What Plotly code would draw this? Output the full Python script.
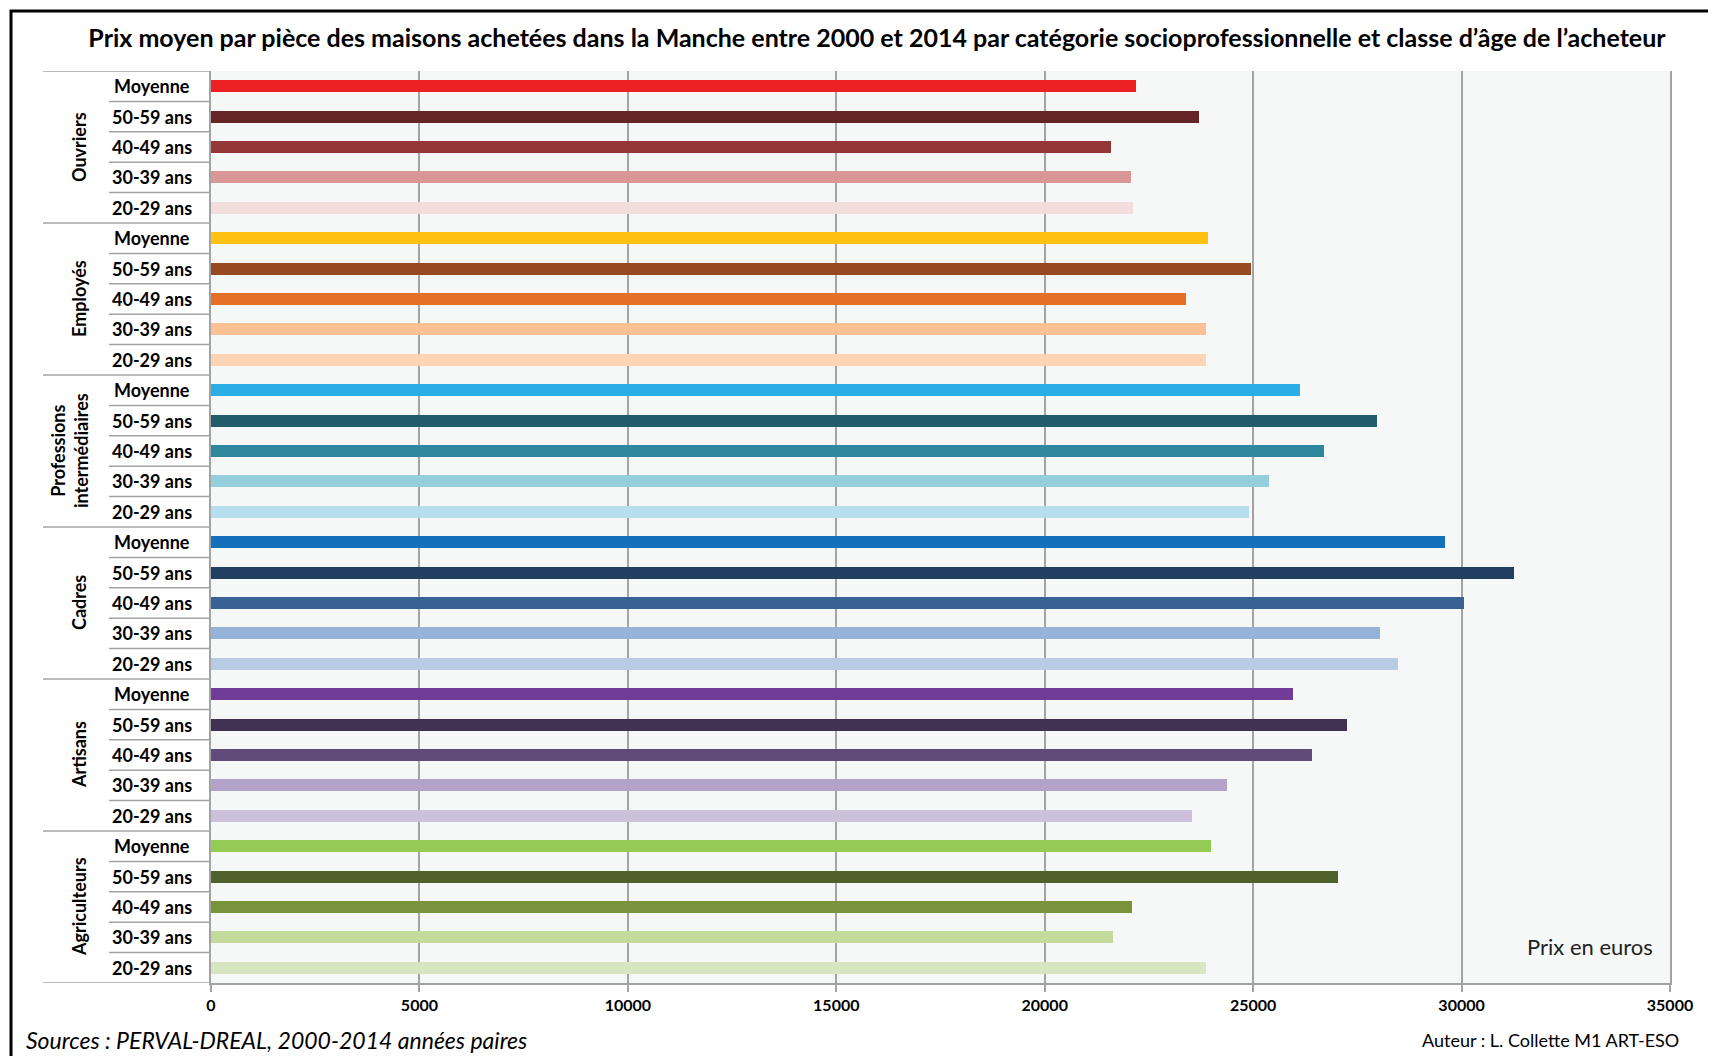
import plotly.graph_objects as go

# groups from top to bottom, age classes inside each group
GROUPS = ['Ouvriers', 'Employés', 'Professions<br>intermédiaires', 'Cadres', 'Artisans', 'Agriculteurs']
AGES = ['Moyenne', '50-59 ans', '40-49 ans', '30-39 ans', '20-29 ans']

ouvriers = [22180, 23710, 21600, 22070, 22110]
employes = [23920, 24940, 23400, 23870, 23860]
prof_inter = [26130, 27970, 26690, 25380, 24910]
cadres = [29610, 31250, 30070, 28040, 28480]
artisans = [25950, 27250, 26410, 24380, 23530]
agriculteurs = [23990, 27040, 22090, 21630, 23870]

col_ouvriers = ['#ED2024', '#632526', '#953737', '#D99696', '#F2DCDC']
col_employes = ['#FFC114', '#974A22', '#E46F26', '#FBC093', '#FDD4B5']
col_prof = ['#2AAEE5', '#225B69', '#2F879E', '#95CEDD', '#B7DFEB']
col_cadres = ['#1371BA', '#213F60', '#376293', '#95B3D8', '#B8CCE6']
col_artisans = ['#713B98', '#413252', '#614B7B', '#B3A2C9', '#CCC0DB']
col_agri = ['#93CB54', '#50622B', '#79933D', '#C4DA9C', '#D8E6C1']

XTICKS = [0, 5000, 10000, 15000, 20000, 25000, 30000, 35000]

values = ouvriers + employes + prof_inter + cadres + artisans + agriculteurs
colors = col_ouvriers + col_employes + col_prof + col_cadres + col_artisans + col_agri
rows = list(range(len(values)))
labels = AGES * len(GROUPS)

# the page body adds an 8px margin, so page positions are shifted by OFF
OFF = 8
W, H = 1716, 1056
PW, PH = 1459, 912
L, T = 211 - OFF, 71 - OFF
R, B = W - L - PW, H - T - PH
FONT = 'Lato'
GRID = '#A3A3A3'


def px(x):
    return (x - OFF - L) / PW


def py(y):
    return 1 - (y - OFF - T) / PH


fig = go.Figure()
fig.add_trace(go.Bar(x=values, y=rows, orientation='h', width=0.39,
                     marker=dict(color=colors, line=dict(width=0)),
                     hoverinfo='x'))

shapes = []
# black frame around the picture
shapes.append(dict(type='rect', xref='paper', yref='paper', x0=px(11), x1=px(1760),
                   y0=py(11), y1=py(1100), line=dict(color='black', width=3)))
# separators of the label column
for i in range(len(rows) + 1):
    x0 = px(43) if i % 5 == 0 else px(109)
    shapes.append(dict(type='line', xref='paper', yref='y', x0=x0, x1=0,
                       y0=i - 0.5, y1=i - 0.5, line=dict(color=GRID, width=1.5)))

ann = []
for r, lab in zip(rows, labels):
    ann.append(dict(x=px(152), y=r, xref='paper', yref='y', text=lab, showarrow=False,
                    xanchor='center', font=dict(family=FONT, size=18, color='black', weight='bold')))
for g, name in enumerate(GROUPS):
    xg = px(69) if '<br>' in name else px(79)
    ann.append(dict(x=xg, y=g * 5 + 2, xref='paper', yref='y', text=name, showarrow=False,
                    textangle=-90, xanchor='center', yanchor='middle',
                    font=dict(family=FONT, size=18, color='black', weight='bold')))

ann.append(dict(x=px(1655), y=py(946), xref='paper', yref='paper', text='Prix en euros',
                showarrow=False, xanchor='right', yanchor='middle',
                font=dict(family=FONT, size=22, color='#222222')))
ann.append(dict(x=px(24), y=py(1040), xref='paper', yref='paper',
                text='<i>Sources : PERVAL-DREAL, 2000-2014 années paires</i>',
                showarrow=False, xanchor='left', yanchor='middle',
                font=dict(family=FONT, size=23, color='black')))
ann.append(dict(x=px(1681), y=py(1040), xref='paper', yref='paper',
                text='Auteur : L. Collette M1 ART-ESO',
                showarrow=False, xanchor='right', yanchor='middle',
                font=dict(family=FONT, size=18, color='black')))

fig.update_layout(
    width=W, height=H,
    margin=dict(l=L, r=R, t=T, b=B),
    paper_bgcolor='white',
    plot_bgcolor='#F6F8F8',
    showlegend=False,
    bargap=0,
    title=dict(text='Prix moyen par pièce des maisons achetées dans la Manche entre 2000 et 2014 par catégorie socioprofessionnelle et classe d’âge de l’acheteur',
               x=(877 - OFF) / W, y=1 - (38 - OFF) / H, xref='container', yref='container',
               xanchor='center', yanchor='middle',
               font=dict(family=FONT, size=25, color='black', weight='bold')),
    xaxis=dict(range=[0, 35000], tickvals=XTICKS, ticktext=[str(v) for v in XTICKS],
               showgrid=True, gridcolor=GRID, gridwidth=1.5, zeroline=False,
               showline=True, linecolor=GRID, linewidth=1.5,
               ticks='outside', ticklen=7, tickcolor=GRID, tickwidth=1.5,
               tickfont=dict(family=FONT, size=16, color='black', weight='bold')),
    yaxis=dict(range=[len(rows) - 0.5, -0.5], showticklabels=False, showgrid=False,
               zeroline=False, showline=True, mirror=True, linecolor=GRID, linewidth=1.5,
               ticks=''),
    shapes=shapes,
    annotations=ann,
)

fig.write_html('out.html')
